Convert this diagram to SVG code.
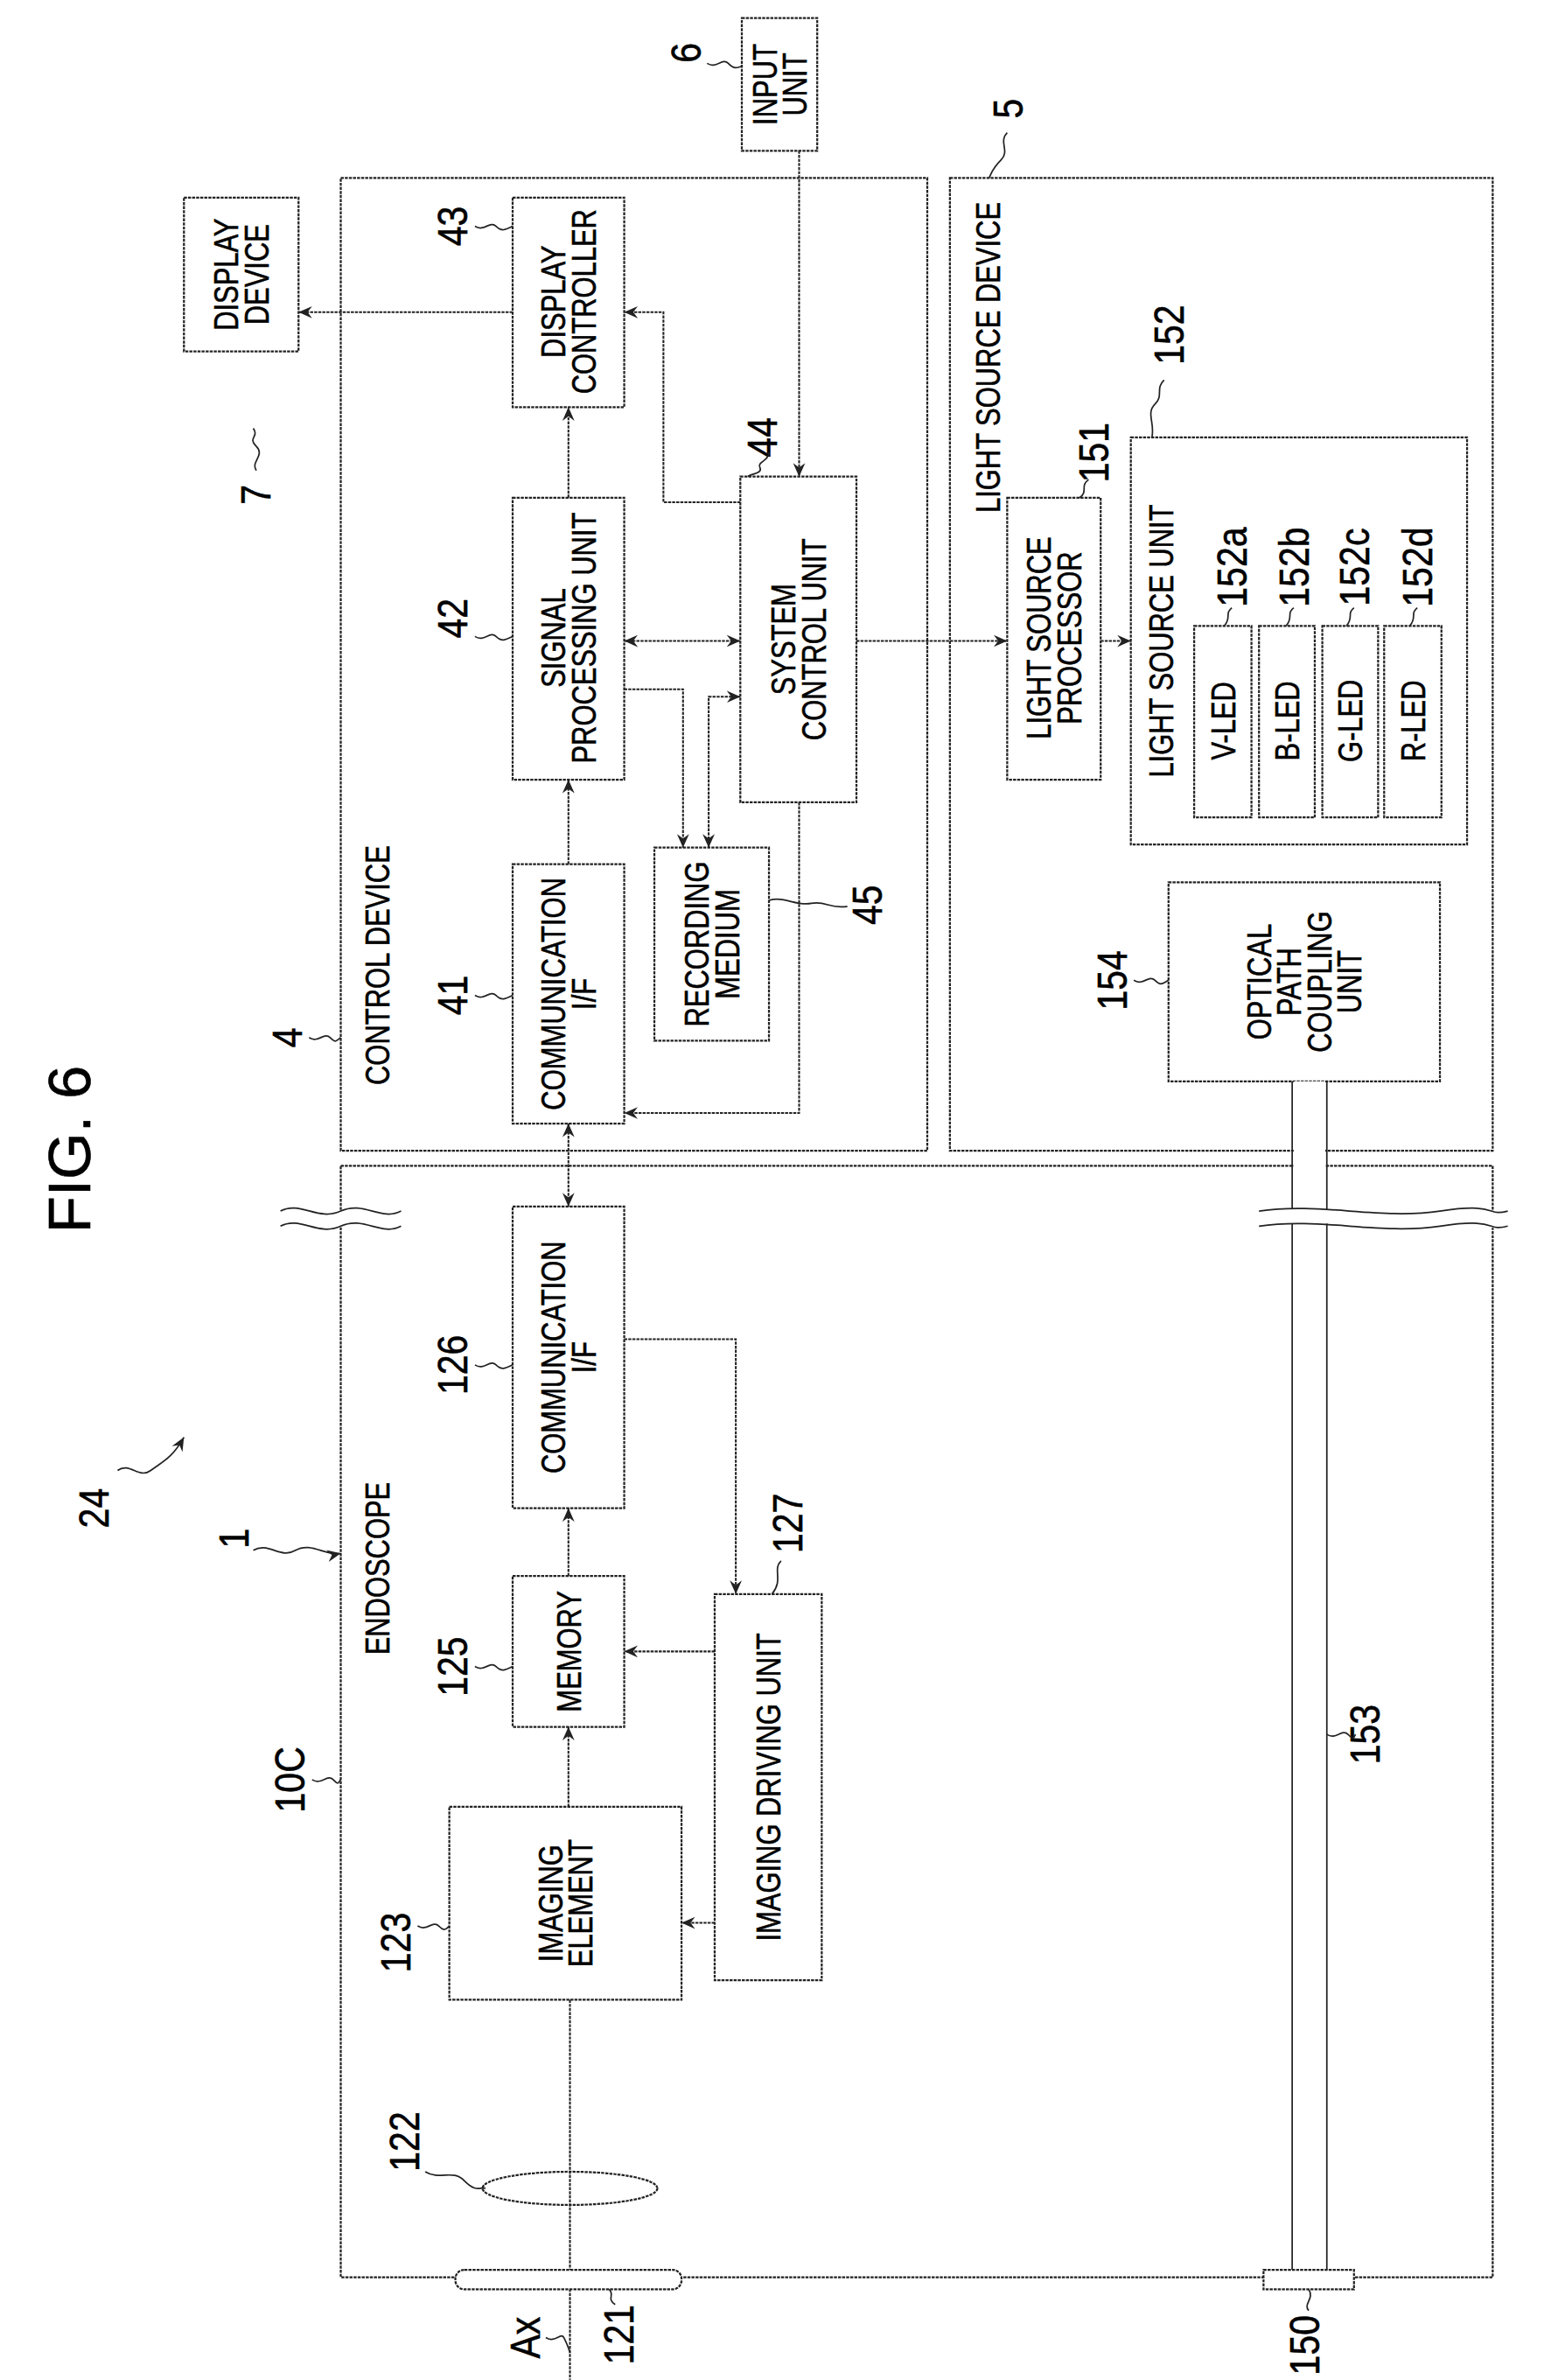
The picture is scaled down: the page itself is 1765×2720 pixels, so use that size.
<svg xmlns="http://www.w3.org/2000/svg" width="1765" height="2720" viewBox="0 0 1765 2720">
<style>
.b{fill:none;stroke:#222;stroke-width:1.3;stroke-dasharray:2 0.7}
.w{fill:#fff;stroke:#222;stroke-width:1.3;stroke-dasharray:2 0.7}
.c{fill:none;stroke:#222;stroke-width:1.2;stroke-dasharray:2 0.7}
.l{fill:none;stroke:#222;stroke-width:1}
text{font-family:"Liberation Sans",Arial,sans-serif;fill:#000;text-anchor:middle;stroke:#000;stroke-width:0.35}
.t{font-size:23px}
.n{font-size:28px}
</style>
<defs>
<marker id="a" markerUnits="userSpaceOnUse" markerWidth="10" markerHeight="10" refX="9" refY="5" orient="auto-start-reverse">
<path d="M0,1 L9,5 L0,9 L3,5 Z" fill="#222"/>
</marker>
</defs>
<rect width="1765" height="2720" fill="#fff"/>
<g transform="scale(1.7236)">
<text transform="translate(60,762) rotate(-90)" style="font-size:40px">FIG. 6</text>

<g id="control-device"><rect class="b" x="226" y="118" width="389" height="645"/><text class="t" transform="translate(258,640) rotate(-90) scale(.78,1)">CONTROL DEVICE</text></g>
<g id="light-source-device"><rect class="b" x="630" y="118" width="360" height="645"/><text class="t" transform="translate(663,237) rotate(-90) scale(.78,1)">LIGHT SOURCE DEVICE</text></g>
<g id="endoscope"><rect class="b" x="226" y="773" width="764" height="737"/><text class="t" transform="translate(258,1040) rotate(-90) scale(.78,1)">ENDOSCOPE</text></g>

<g id="input-unit"><rect class="w" x="492" y="12" width="50" height="88"/><text class="t" transform="translate(515,56) rotate(-90) scale(.78,1)">INPUT</text><text class="t" transform="translate(535,56) rotate(-90) scale(.78,1)">UNIT</text></g>
<g id="display-device"><rect class="w" x="122" y="131" width="76" height="102"/><text class="t" transform="translate(158,182) rotate(-90) scale(.78,1)">DISPLAY</text><text class="t" transform="translate(178,182) rotate(-90) scale(.78,1)">DEVICE</text></g>
<g id="display-controller"><rect class="w" x="340" y="131" width="74" height="139"/><text class="t" transform="translate(375,200) rotate(-90) scale(.78,1)">DISPLAY</text><text class="t" transform="translate(395,200) rotate(-90) scale(.78,1)">CONTROLLER</text></g>
<g id="signal-processing"><rect class="w" x="340" y="330" width="74" height="187"/><text class="t" transform="translate(375,423) rotate(-90) scale(.78,1)">SIGNAL</text><text class="t" transform="translate(395,423) rotate(-90) scale(.78,1)">PROCESSING UNIT</text></g>
<g id="comm-41"><rect class="w" x="340" y="573" width="74" height="172"/><text class="t" transform="translate(375,659) rotate(-90) scale(.78,1)">COMMUNICATION</text><text class="t" transform="translate(395,659) rotate(-90) scale(.78,1)">I/F</text></g>
<g id="recording-medium"><rect class="w" x="434" y="562" width="76" height="128"/><text class="t" transform="translate(470,626) rotate(-90) scale(.78,1)">RECORDING</text><text class="t" transform="translate(490,626) rotate(-90) scale(.78,1)">MEDIUM</text></g>
<g id="system-control"><rect class="w" x="491" y="316" width="77" height="216"/><text class="t" transform="translate(527.5,424) rotate(-90) scale(.78,1)">SYSTEM</text><text class="t" transform="translate(547.5,424) rotate(-90) scale(.78,1)">CONTROL UNIT</text></g>
<g id="light-source-processor"><rect class="w" x="668" y="330" width="62" height="187"/><text class="t" transform="translate(697,423) rotate(-90) scale(.78,1)">LIGHT SOURCE</text><text class="t" transform="translate(717,423) rotate(-90) scale(.78,1)">PROCESSOR</text></g>
<g id="light-source-unit"><rect class="w" x="750" y="290" width="223" height="270"/><text class="t" transform="translate(778,425) rotate(-90) scale(.78,1)">LIGHT SOURCE UNIT</text></g>
<g id="v-led"><rect class="w" x="792" y="415" width="38" height="127"/><text class="t" transform="translate(819,478) rotate(-90) scale(.78,1)">V-LED</text></g>
<g id="b-led"><rect class="w" x="835" y="415" width="37" height="127"/><text class="t" transform="translate(861.5,478) rotate(-90) scale(.78,1)">B-LED</text></g>
<g id="g-led"><rect class="w" x="877" y="415" width="37" height="127"/><text class="t" transform="translate(903.5,478) rotate(-90) scale(.78,1)">G-LED</text></g>
<g id="r-led"><rect class="w" x="918" y="415" width="38" height="127"/><text class="t" transform="translate(945,478) rotate(-90) scale(.78,1)">R-LED</text></g>
<g id="optical-path"><rect class="w" x="775" y="585" width="180" height="132"/><text class="t" transform="translate(843,651) rotate(-90) scale(.78,1)">OPTICAL</text><text class="t" transform="translate(863,651) rotate(-90) scale(.78,1)">PATH</text><text class="t" transform="translate(883,651) rotate(-90) scale(.78,1)">COUPLING</text><text class="t" transform="translate(903,651) rotate(-90) scale(.78,1)">UNIT</text></g>
<g id="comm-126"><rect class="w" x="340" y="800" width="74" height="200"/><text class="t" transform="translate(375,900) rotate(-90) scale(.78,1)">COMMUNICATION</text><text class="t" transform="translate(395,900) rotate(-90) scale(.78,1)">I/F</text></g>
<g id="memory"><rect class="w" x="340" y="1045" width="74" height="100"/><text class="t" transform="translate(385,1095) rotate(-90) scale(.78,1)">MEMORY</text></g>
<g id="imaging-driving"><rect class="w" x="474" y="1057" width="71" height="256"/><text class="t" transform="translate(517.5,1185) rotate(-90) scale(.78,1)">IMAGING DRIVING UNIT</text></g>
<g id="imaging-element"><rect class="w" x="298" y="1198" width="154" height="128"/><text class="t" transform="translate(373,1262) rotate(-90) scale(.78,1)">IMAGING</text><text class="t" transform="translate(393,1262) rotate(-90) scale(.78,1)">ELEMENT</text></g>

<g id="light-guide">
<rect x="858" y="717" width="21" height="790" fill="#fff"/>
<line class="l" x1="857" y1="717" x2="857" y2="1505"/>
<line class="l" x1="880" y1="717" x2="880" y2="1505"/>
<rect class="w" x="838" y="1505" width="60" height="13"/>
</g>
<g id="optics">
<line class="c" x1="378" y1="1326" x2="378" y2="1578"/>
<ellipse class="b" cx="378" cy="1451" rx="58" ry="11" fill="none"/>
<rect class="w" x="302" y="1505" width="150" height="13" rx="6" fill="none"/>
</g>
<g id="breaks">
<rect x="186" y="803" width="80" height="10" fill="#fff"/>
<path class="l" d="M186,803 c13,-7 25,7 40,0 s27,7 40,0"/>
<path class="l" d="M186,813 c13,-7 25,7 40,0 s27,7 40,0"/>
<path d="M835,803 c40,-6 80,6 120,0 s30,4 45,0 L1000,813 c-15,4 -30,-4 -45,0 s-80,-6 -120,0 Z" fill="#fff"/>
<path class="l" d="M835,803 c40,-6 80,6 120,0 s30,4 45,0"/>
<path class="l" d="M835,813 c40,-6 80,6 120,0 s30,4 45,0"/>
</g>

<g id="connectors">
<path class="c" d="M530,100 V316" marker-end="url(#a)"/>
<path class="c" d="M340,207 H198" marker-end="url(#a)"/>
<path class="c" d="M377,330 V270" marker-end="url(#a)"/>
<path class="c" d="M491,333 H440 V207 H414" marker-end="url(#a)"/>
<path class="c" d="M414,425 H491" marker-start="url(#a)" marker-end="url(#a)"/>
<path class="c" d="M414,457 H453 V562" marker-end="url(#a)"/>
<path class="c" d="M470,562 V462 H491" marker-start="url(#a)" marker-end="url(#a)"/>
<path class="c" d="M377,573 V517" marker-end="url(#a)"/>
<path class="c" d="M530,532 V738 H414" marker-end="url(#a)"/>
<path class="c" d="M568,425 H668" marker-end="url(#a)"/>
<path class="c" d="M730,425 H750" marker-end="url(#a)"/>
<path class="c" d="M377,745 V800" marker-start="url(#a)" marker-end="url(#a)"/>
<path class="c" d="M377,1045 V1000" marker-end="url(#a)"/>
<path class="c" d="M377,1198 V1145" marker-end="url(#a)"/>
<path class="c" d="M414,888 H488 V1057" marker-end="url(#a)"/>
<path class="c" d="M474,1095 H414" marker-end="url(#a)"/>
<path class="c" d="M474,1275 H452" marker-end="url(#a)"/>
<path class="l" d="M78,975 c8,-6 14,6 22,0 s14,-8 22,-22" marker-end="url(#a)"/>
<path class="l" d="M168,1028 c10,-6 18,6 28,0 s20,4 30,2" marker-end="url(#a)"/>
</g>

<g id="labels">
<text class="n" transform="translate(465,35) rotate(-90) scale(.85,1)">6</text><path class="l" d="M469,42 c6,4 10,-4 14,0 s5,3 9,2"/>
<text class="n" transform="translate(310,150) rotate(-90) scale(.85,1)">43</text><path class="l" d="M315,150 c6,4 10,-4 14,0 s7,2 11,0"/>
<text class="n" transform="translate(515,290) rotate(-90) scale(.85,1)">44</text><path class="l" d="M510,300 c0,6 -8,6 -6,10 s-6,4 -8,6"/>
<text class="n" transform="translate(310,410) rotate(-90) scale(.85,1)">42</text><path class="l" d="M315,422 c6,4 10,-4 14,0 s7,2 11,0"/>
<text class="n" transform="translate(310,660) rotate(-90) scale(.85,1)">41</text><path class="l" d="M315,660 c6,4 10,-4 14,0 s7,2 11,0"/>
<text class="n" transform="translate(585,600) rotate(-90) scale(.85,1)">45</text><path class="l" d="M510,597 c10,-3 18,4 28,2 s12,4 24,2"/>
<text class="n" transform="translate(735,300) rotate(-90) scale(.85,1)">151</text><path class="l" d="M722,318 c-6,4 0,8 -6,12"/>
<text class="n" transform="translate(785,222) rotate(-90) scale(.85,1)">152</text><path class="l" d="M772,252 c-6,6 0,10 -6,16 s0,12 -2,22"/>
<text class="n" transform="translate(827,376) rotate(-90) scale(.85,1)">152a</text><path class="l" d="M817,403 c-5,4 0,6 -5,12"/>
<text class="n" transform="translate(868,376) rotate(-90) scale(.85,1)">152b</text><path class="l" d="M858,403 c-5,4 0,6 -5,12"/>
<text class="n" transform="translate(908,376) rotate(-90) scale(.85,1)">152c</text><path class="l" d="M898,403 c-5,4 0,6 -5,12"/>
<text class="n" transform="translate(950,376) rotate(-90) scale(.85,1)">152d</text><path class="l" d="M940,403 c-5,4 0,6 -5,12"/>
<text class="n" transform="translate(747,650) rotate(-90) scale(.85,1)">154</text><path class="l" d="M752,650 c6,4 10,-4 14,0 s5,2 9,0"/>
<text class="n" transform="translate(678,72) rotate(-90) scale(.85,1)">5</text><path class="l" d="M668,88 c-6,6 2,12 -4,18 s-6,8 -8,12"/>
<text class="n" transform="translate(200,688) rotate(-90) scale(.85,1)">4</text><path class="l" d="M205,688 c6,4 10,-4 14,0 s4,2 7,0"/>
<text class="n" transform="translate(179,328) rotate(-90) scale(.85,1)">7</text><path class="l" d="M170,312 c-4,-6 6,-10 0,-16 s2,-6 -2,-12"/>
<text class="n" transform="translate(165,1020) rotate(-90) scale(.85,1)">1</text>
<text class="n" transform="translate(72,1000) rotate(-90) scale(.85,1)">24</text>
<text class="n" transform="translate(202,1180) rotate(-90) scale(.85,1)">10C</text><path class="l" d="M207,1180 c6,4 10,-4 14,0 s3,2 5,0"/>
<text class="n" transform="translate(310,905) rotate(-90) scale(.85,1)">126</text><path class="l" d="M315,905 c6,4 10,-4 14,0 s7,2 11,0"/>
<text class="n" transform="translate(310,1105) rotate(-90) scale(.85,1)">125</text><path class="l" d="M315,1105 c6,4 10,-4 14,0 s7,2 11,0"/>
<text class="n" transform="translate(532,1010) rotate(-90) scale(.85,1)">127</text><path class="l" d="M518,1035 c-6,6 2,12 -6,22"/>
<text class="n" transform="translate(272,1288) rotate(-90) scale(.85,1)">123</text><path class="l" d="M277,1277 c6,4 10,-4 14,0 s5,2 7,0"/>
<text class="n" transform="translate(278,1420) rotate(-90) scale(.85,1)">122</text><path class="l" d="M282,1440 c10,6 18,-2 26,6 s10,4 14,5"/>
<text class="n" transform="translate(420,1548) rotate(-90) scale(.85,1)">121</text><path class="l" d="M408,1528 c-6,-4 0,-6 -4,-10"/>
<text class="n" transform="translate(358,1550) rotate(-90) scale(.85,1)">Ax</text><path class="l" d="M362,1550 c6,4 10,-4 12,0 s3,6 4,10"/>
<text class="n" transform="translate(875,1555) rotate(-90) scale(.85,1)">150</text><path class="l" d="M868,1532 c-4,-4 4,-8 0,-14"/>
<text class="n" transform="translate(915,1150) rotate(-90) scale(.85,1)">153</text><path class="l" d="M880,1150 c6,4 10,-4 14,0 s4,2 5,0"/>
</g>
</g>
</svg>
